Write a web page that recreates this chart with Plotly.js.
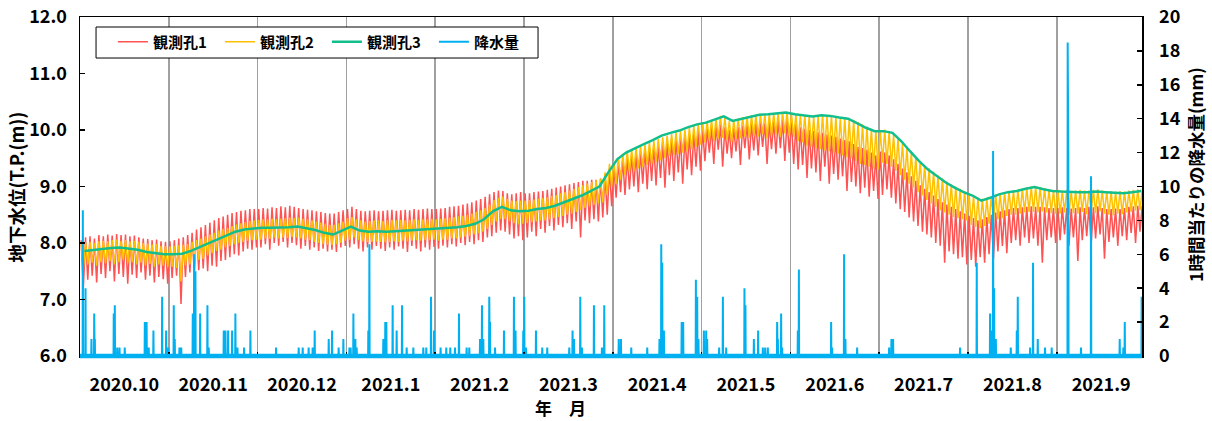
<!DOCTYPE html>
<html><head><meta charset="utf-8">
<script src="https://cdn.plot.ly/plotly-3.0.1.min.js"></script>
<style>html,body{margin:0;padding:0;background:#fff}#chart{width:1212px;height:421px}</style>
</head><body><div id="chart"></div>
<script>
// Month labels (each month = one unit on the x axis)
const monthLabels = ['2020.10','2020.11','2020.12','2021.1','2021.2','2021.3','2021.4','2021.5','2021.6','2021.7','2021.8','2021.9'];

// 観測孔3 (teal) — readings every ~3 days, one row per month (m)
const obs3 = [
 [7.86,7.88,7.90,7.91,7.92,7.90,7.88,7.84,7.82,7.80],
 [7.80,7.81,7.86,7.93,8.00,8.07,8.14,8.20,8.24,8.26],
 [8.27,8.27,8.27,8.28,8.29,8.26,8.23,8.18,8.15,8.22],
 [8.29,8.22,8.20,8.21,8.20,8.21,8.22,8.22,8.23,8.24],
 [8.25,8.26,8.28,8.30,8.34,8.42,8.56,8.64,8.58,8.56],
 [8.57,8.60,8.62,8.66,8.72,8.78,8.84,8.92,9.00,9.25],
 [9.48,9.60,9.68,9.75,9.82,9.90,9.95,9.99,10.05,10.10],
 [10.13,10.18,10.24,10.16,10.20,10.24,10.27,10.28,10.30,10.31],
 [10.28,10.26,10.24,10.26,10.25,10.22,10.20,10.12,10.04,9.98],
 [9.98,9.95,9.80,9.62,9.45,9.30,9.18,9.07,8.98,8.90],
 [8.84,8.75,8.80,8.86,8.90,8.92,8.96,8.99,8.95,8.92],
 [8.91,8.90,8.90,8.90,8.91,8.90,8.89,8.88,8.90,8.92]
];
// 観測孔2 (orange) — highs and lows every ~1.5 days
const obs2Hi = [
 [7.98,8.01,8.02,8.00,8.03,8.04,8.03,8.05,8.06,8.04,8.05,8.03,8.04,8.02,8.00,7.99,7.97,7.98,7.95,7.94],
 [7.94,7.95,7.96,7.97,7.98,8.02,8.05,8.08,8.12,8.15,8.18,8.22,8.25,8.27,8.30,8.33,8.35,8.37,8.39,8.40],
 [8.41,8.42,8.42,8.43,8.42,8.43,8.44,8.45,8.44,8.45,8.43,8.42,8.40,8.38,8.36,8.34,8.32,8.32,8.35,8.38],
 [8.44,8.46,8.42,8.40,8.38,8.39,8.40,8.40,8.39,8.40,8.41,8.40,8.41,8.40,8.41,8.42,8.41,8.42,8.42,8.43],
 [8.42,8.43,8.44,8.45,8.46,8.47,8.48,8.50,8.52,8.55,8.58,8.62,8.68,8.76,8.80,8.82,8.78,8.75,8.74,8.75],
 [8.75,8.76,8.77,8.78,8.80,8.81,8.83,8.85,8.88,8.90,8.93,8.96,8.99,9.02,9.05,9.08,9.11,9.14,9.25,9.40],
 [9.45,9.52,9.58,9.63,9.66,9.69,9.72,9.75,9.78,9.81,9.84,9.87,9.90,9.93,9.96,9.98,10.00,10.04,10.07,10.11],
 [10.13,10.16,10.18,10.21,10.25,10.22,10.16,10.18,10.20,10.23,10.24,10.26,10.27,10.28,10.28,10.29,10.30,10.31,10.32,10.32],
 [10.29,10.28,10.27,10.26,10.25,10.24,10.25,10.27,10.26,10.25,10.24,10.22,10.21,10.20,10.18,10.14,10.10,10.06,10.02,10.00],
 [10.00,10.01,9.98,9.92,9.85,9.76,9.68,9.60,9.52,9.45,9.38,9.32,9.26,9.20,9.14,9.09,9.04,9.00,8.96,8.92],
 [8.88,8.84,8.80,8.78,8.80,8.83,8.86,8.88,8.90,8.92,8.93,8.94,8.96,8.98,9.00,9.01,8.99,8.97,8.95,8.94],
 [8.94,8.93,8.94,8.92,8.93,8.94,8.93,8.93,8.94,8.95,8.93,8.92,8.92,8.91,8.92,8.91,8.93,8.94,8.95,8.95]
];
const obs2Lo = [
 [7.55,7.62,7.65,7.60,7.66,7.64,7.68,7.62,7.66,7.70,7.64,7.66,7.62,7.65,7.60,7.63,7.58,7.62,7.60,7.57],
 [7.58,7.56,7.32,7.60,7.62,7.66,7.70,7.72,7.78,7.82,7.86,7.88,7.92,7.95,7.98,8.00,8.02,8.04,8.05,8.06],
 [8.06,8.08,8.07,8.10,8.08,8.10,8.09,8.11,8.10,8.08,8.06,8.05,8.02,8.00,7.98,7.97,7.96,7.98,8.00,8.04],
 [8.06,8.10,8.05,8.03,8.02,8.02,8.03,8.02,8.01,8.02,8.03,8.02,8.04,8.03,8.04,8.05,8.04,8.05,8.05,8.06],
 [8.04,8.06,8.06,8.08,8.08,8.10,8.11,8.13,8.15,8.18,8.20,8.25,8.32,8.38,8.42,8.42,8.38,8.35,8.33,8.34],
 [8.35,8.37,8.38,8.40,8.40,8.42,8.44,8.46,8.48,8.50,8.52,8.55,8.58,8.62,8.65,8.68,8.70,8.72,8.85,9.00],
 [9.05,9.12,9.20,9.26,9.28,9.32,9.34,9.38,9.40,9.44,9.46,9.50,9.54,9.56,9.58,9.60,9.62,9.66,9.70,9.74],
 [9.78,9.82,9.80,9.85,9.86,9.82,9.78,9.84,9.85,9.88,9.86,9.90,9.88,9.92,9.85,9.90,9.92,9.88,9.94,9.90],
 [9.88,9.80,9.78,9.72,9.70,9.68,9.66,9.64,9.62,9.60,9.58,9.55,9.52,9.50,9.45,9.40,9.38,9.35,9.32,9.30],
 [9.42,9.40,9.35,9.28,9.20,9.12,9.05,8.98,8.90,8.84,8.76,8.70,8.64,8.58,8.54,8.50,8.46,8.44,8.42,8.40],
 [8.32,8.28,8.26,8.30,8.34,8.38,8.42,8.44,8.48,8.50,8.50,8.52,8.54,8.55,8.55,8.54,8.56,8.54,8.53,8.52],
 [8.52,8.54,8.50,8.53,8.52,8.55,8.51,8.54,8.53,8.56,8.52,8.50,8.49,8.52,8.51,8.54,8.55,8.57,8.58,8.60]
];
// 観測孔1 (red) — highs and lows every ~1.5 days
const obs1Hi = [
 [8.05,8.10,8.12,8.08,8.14,8.12,8.15,8.13,8.16,8.14,8.15,8.12,8.13,8.10,8.08,8.07,8.05,8.06,8.03,8.02],
 [8.03,8.05,8.08,8.10,8.14,8.18,8.24,8.28,8.32,8.36,8.40,8.44,8.47,8.50,8.53,8.55,8.57,8.58,8.60,8.60],
 [8.60,8.62,8.61,8.63,8.62,8.65,8.63,8.66,8.64,8.62,8.60,8.59,8.58,8.56,8.55,8.53,8.52,8.52,8.55,8.58],
 [8.60,8.64,8.60,8.57,8.56,8.57,8.58,8.56,8.57,8.58,8.59,8.57,8.58,8.59,8.58,8.60,8.59,8.60,8.61,8.60],
 [8.60,8.61,8.62,8.64,8.65,8.66,8.68,8.70,8.72,8.75,8.78,8.82,8.86,8.90,8.93,8.92,8.88,8.86,8.88,8.90],
 [8.88,8.88,8.90,8.91,8.92,8.94,8.96,8.98,9.00,9.02,9.04,9.06,9.08,9.10,9.10,9.12,9.12,9.14,9.22,9.32],
 [9.35,9.42,9.48,9.52,9.56,9.60,9.62,9.66,9.68,9.72,9.74,9.78,9.80,9.84,9.85,9.87,9.88,9.92,9.94,9.98],
 [10.00,10.02,10.04,10.08,10.10,10.05,10.00,10.03,10.05,10.08,10.10,10.12,10.12,10.14,10.12,10.14,10.15,10.16,10.18,10.18],
 [10.16,10.10,10.05,10.02,10.00,9.98,9.96,9.95,9.92,9.90,9.88,9.85,9.82,9.80,9.75,9.70,9.68,9.65,9.60,9.55],
 [9.62,9.60,9.55,9.48,9.40,9.32,9.25,9.18,9.10,9.02,8.96,8.90,8.84,8.78,8.72,8.68,8.64,8.60,8.56,8.52],
 [8.48,8.44,8.40,8.42,8.46,8.50,8.54,8.56,8.58,8.60,8.62,8.62,8.63,8.64,8.65,8.64,8.64,8.63,8.62,8.62],
 [8.62,8.63,8.62,8.61,8.62,8.63,8.62,8.64,8.63,8.65,8.62,8.60,8.60,8.61,8.60,8.62,8.64,8.65,8.66,8.66]
];
const obs1Lo = [
 [7.20,7.35,7.42,7.30,7.45,7.38,7.50,7.32,7.45,7.40,7.28,7.44,7.38,7.48,7.35,7.42,7.30,7.40,7.36,7.28],
 [7.38,7.42,6.92,7.40,7.48,7.45,7.52,7.55,7.50,7.60,7.58,7.68,7.70,7.75,7.80,7.78,7.85,7.90,7.88,7.92],
 [7.92,7.98,7.88,8.00,7.95,8.02,7.92,8.00,7.96,7.90,7.95,7.88,7.92,7.86,7.90,7.85,7.88,7.84,7.92,7.95],
 [7.92,7.98,7.90,7.85,7.92,7.88,7.95,7.90,7.86,7.92,7.88,7.94,7.90,7.84,7.95,7.90,7.85,7.92,7.88,7.93],
 [7.90,7.95,7.92,7.98,7.94,8.00,7.96,8.02,7.98,8.05,8.02,8.10,8.12,8.18,8.22,8.20,8.15,8.08,8.12,8.05],
 [8.10,8.20,8.12,8.25,8.18,8.30,8.22,8.32,8.28,8.35,8.25,8.38,8.10,8.40,8.35,8.42,8.38,8.45,8.50,8.65],
 [8.80,8.90,8.85,8.95,9.00,8.90,9.05,8.95,9.10,9.02,9.15,8.98,9.20,9.10,9.25,9.05,9.30,9.20,9.35,9.28],
 [9.45,9.60,9.40,9.65,9.35,9.58,9.50,9.62,9.38,9.68,9.48,9.64,9.55,9.70,9.40,9.66,9.58,9.68,9.45,9.60],
 [9.40,9.30,9.38,9.15,9.32,9.25,9.10,9.35,9.05,9.22,9.12,9.18,8.92,9.08,9.00,8.88,8.98,8.82,8.92,8.78],
 [8.85,8.95,8.80,8.70,8.60,8.55,8.45,8.38,8.30,8.20,8.15,8.10,8.00,7.95,7.65,7.85,7.80,7.72,7.75,7.62],
 [7.70,7.58,7.75,7.65,7.80,7.72,7.85,7.95,7.82,8.00,8.05,7.95,8.10,8.00,8.08,7.95,7.65,8.05,8.10,8.00],
 [8.05,8.15,7.95,8.10,7.68,8.05,8.12,7.98,8.08,8.15,7.72,8.02,8.10,7.95,8.12,8.05,8.18,8.00,8.20,8.25]
];

// 降水量 (mm/h): event time in months since 2020-10-01, and amount
const rainTime = [0.032,0.062,0.129,0.160,0.167,0.380,0.392,0.419,0.445,0.504,0.730,0.750,0.774,0.827,0.925,0.970,0.993,
 1.056,1.067,1.120,1.140,1.270,1.285,1.300,1.353,1.435,1.450,1.619,1.638,1.668,1.713,1.750,1.773,1.848,1.919,
 2.208,2.463,2.508,2.575,2.620,2.643,2.801,2.839,2.913,2.966,
 3.034,3.048,3.079,3.101,3.116,3.247,3.259,3.416,3.438,3.450,3.521,3.566,3.627,3.679,3.754,3.866,3.900,3.953,3.987,
 4.061,4.125,4.170,4.223,4.268,4.354,4.384,4.505,4.527,4.542,4.609,4.617,4.674,4.775,4.887,4.905,4.992,
 5.003,5.022,5.135,5.206,5.262,5.510,5.547,5.563,5.634,5.653,5.788,5.878,5.904,
 6.067,6.092,6.208,6.388,6.526,6.546,6.557,6.576,6.776,6.793,6.936,6.951,6.965,
 7.026,7.052,7.063,7.198,7.240,7.277,7.483,7.494,7.589,7.637,7.690,7.716,7.746,7.851,7.859,7.896,7.907,
 8.084,8.096,8.459,8.470,8.605,8.620,8.752,
 9.112,9.138,9.157,9.911,
 10.099,10.249,10.260,10.283,10.294,10.314,10.482,10.550,10.561,10.700,10.733,10.786,10.868,10.943,
 11.123,11.130,11.273,11.386,11.709,11.750,11.766,11.956];
const rainMM = [8.6,4.0,1.0,2.5,1.0,2.5,3.0,0.5,0.5,0.5,2.0,2.0,0.5,1.5,3.5,1.5,0.5,
 3.0,1.0,0.5,0.5,2.5,6.0,5.0,2.5,3.0,0.5,1.5,1.5,1.5,1.5,2.5,0.5,0.5,1.5,
 0.5,0.5,0.5,0.5,0.5,1.5,1.0,1.5,0.5,1.0,
 0.5,0.5,2.5,1.0,0.5,1.5,6.6,1.0,2.0,2.0,3.0,1.5,3.0,0.5,0.5,0.5,0.5,3.5,1.5,
 0.5,0.5,0.5,0.5,2.5,0.5,0.5,1.0,3.0,1.0,3.5,2.0,0.5,1.5,3.5,1.5,1.5,
 3.5,0.5,1.5,0.5,0.5,0.5,1.5,1.0,3.5,0.5,3.0,0.5,3.0,
 1.0,1.0,0.5,0.5,1.0,6.6,5.5,1.5,2.0,2.0,4.5,3.5,1.0,
 1.5,1.5,1.0,0.5,3.5,0.5,4.0,3.0,1.0,1.5,0.5,0.5,0.5,2.0,1.0,2.5,0.5,
 1.5,5.1,2.0,0.5,6.0,1.0,0.5,
 0.5,1.0,1.0,0.5,
 5.5,2.5,1.5,12.1,4.0,1.0,0.5,1.5,3.5,0.5,5.5,1.0,0.5,0.5,
 18.5,12.0,0.5,10.6,1.0,0.5,2.0,3.5];

// ---- build traces from the arrays ----
const XMAX = 11.96;
function zig(hi, lo){
  const xs=[], ys=[];
  hi.forEach((row,m)=>{ const n=row.length; row.forEach((v,k)=>{
    xs.push(m+(k+0.25)/n); ys.push(v);
    xs.push(m+(k+0.75)/n); ys.push(lo[m][k]);
  });});
  return {xs, ys};
}
function line(arr){
  const xs=[], ys=[];
  arr.forEach((row,m)=>{ const n=row.length; row.forEach((v,k)=>{ xs.push(m+(k+0.5)/n); ys.push(v); }); });
  return {xs, ys};
}
const r1 = zig(obs1Hi, obs1Lo), r2 = zig(obs2Hi, obs2Lo), r3 = line(obs3);
const rx=[0], ry=[0];
const d=0.0025;
rainTime.forEach((t,i)=>{ rx.push(t-d,t,t+d); ry.push(0,rainMM[i],0); });
rx.push(XMAX); ry.push(0);

const FONT = '"Noto Sans CJK JP", "Noto Sans", sans-serif';
const traces = [
 {x:r1.xs, y:r1.ys, name:'観測孔1', type:'scatter', mode:'lines', line:{color:'#FF5252', width:1.5}},
 {x:r2.xs, y:r2.ys, name:'観測孔2', type:'scatter', mode:'lines', line:{color:'#FFC000', width:1.5}},
 {x:r3.xs, y:r3.ys, name:'観測孔3', type:'scatter', mode:'lines', line:{color:'#12BF8C', width:2.5}},
 {x:rx, y:ry, name:'降水量', type:'scatter', mode:'lines', yaxis:'y2', line:{color:'#00B0F0', width:2}}
];

const layout = {
  width:1212, height:421,
  margin:{l:80, r:70, t:17, b:65},
  paper_bgcolor:'#fff', plot_bgcolor:'#fff',
  font:{family:FONT, color:'#000'},
  showlegend:true,
  legend:{orientation:'h', x:0.031, y:0.926, xanchor:'left', yanchor:'middle',
    bgcolor:'rgba(0,0,0,0)', borderwidth:0,
    font:{family:FONT, size:15, weight:'bold', color:'#000'},
    entrywidth:62, entrywidthmode:'pixels', itemwidth:30},
  xaxis:{range:[0,XMAX], tickmode:'array', tickvals:monthLabels.map((_,i)=>i+0.5), ticktext:monthLabels,
    ticks:'', showgrid:false, zeroline:false, showline:true, mirror:true, linecolor:'#000', linewidth:1.5,
    tickfont:{family:FONT, size:18, weight:'bold'}, ticklabelstandoff:12,
    minor:{tickmode:'array', tickvals:monthLabels.slice(1).map((_,i)=>i+1), showgrid:true, gridcolor:'#a0a0a0', gridwidth:1.5,
      ticks:'inside', ticklen:4, tickcolor:'#000', tickwidth:1.5}},
  yaxis:{range:[6,12], tick0:6, dtick:1, tickformat:'.1f', ticks:'inside', ticklen:5, tickcolor:'#000', tickwidth:1.5,
    showline:true, linecolor:'#000', linewidth:1.5, showgrid:false, zeroline:false,
    tickfont:{family:FONT, size:18, weight:'bold'}, ticklabelstandoff:8},
  yaxis2:{overlaying:'y', side:'right', range:[0,20], tick0:0, dtick:2, ticks:'inside', ticklen:5, tickcolor:'#000', tickwidth:1.5,
    showline:true, linecolor:'#000', linewidth:1.5, showgrid:false, zeroline:false,
    tickfont:{family:FONT, size:18, weight:'bold'}, ticklabelstandoff:12},
  shapes:[
    {type:'rect', xref:'paper', yref:'paper', x0:0.0151, x1:0.4313, y0:0.879, y1:0.9705, line:{color:'#000', width:1}, fillcolor:'#fff', layer:'above'},
    {type:'line', xref:'paper', yref:'paper', x0:0, x1:1, y0:0, y1:0, line:{color:'#00B0F0', width:4.5}, layer:'above'}
  ],
  annotations:[
    {text:'年　月', xref:'paper', yref:'paper', x:0.452, y:-0.153, xanchor:'center', yanchor:'middle',
      showarrow:false, font:{family:FONT, size:17, weight:'bold'}},
    {text:'地下水位(T.P.(m))', xref:'paper', yref:'paper', x:-0.0603, y:0.5, xanchor:'center', yanchor:'middle',
      textangle:-90, showarrow:false, font:{family:FONT, size:18.5, weight:'bold'}},
    {text:'1時間当たりの降水量(mm)', xref:'paper', yref:'paper', x:1.0508, y:0.537, xanchor:'center', yanchor:'middle',
      textangle:-90, showarrow:false, font:{family:FONT, size:17.5, weight:'bold'}}
  ]
};
Plotly.newPlot('chart', traces, layout, {displayModeBar:false, staticPlot:true});
</script></body></html>
